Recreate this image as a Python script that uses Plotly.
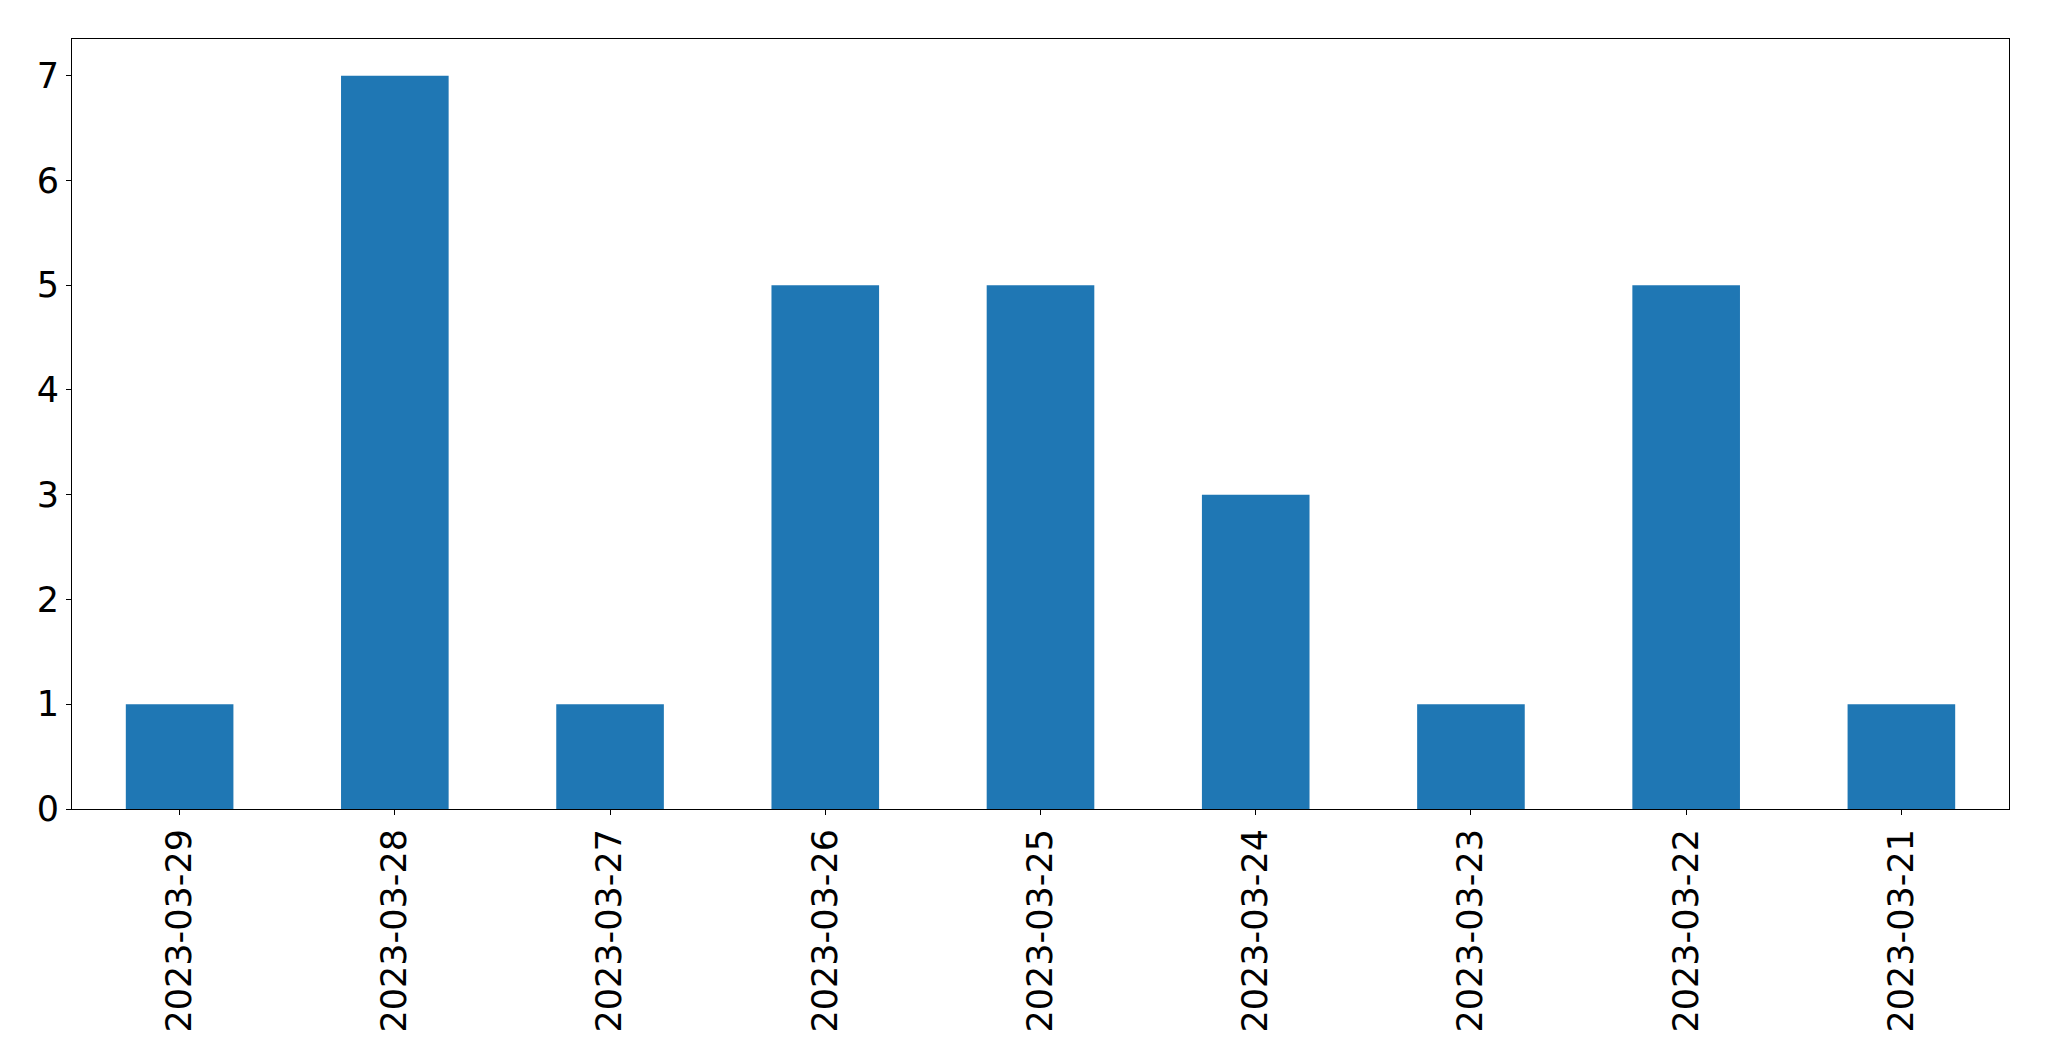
import plotly.graph_objects as go

dates = ["2023-03-29", "2023-03-28", "2023-03-27", "2023-03-26", "2023-03-25",
         "2023-03-24", "2023-03-23", "2023-03-22", "2023-03-21"]
counts = [1, 7, 1, 5, 5, 3, 1, 5, 1]
y_ticks = [0, 1, 2, 3, 4, 5, 6, 7]

fig = go.Figure()
fig.add_trace(go.Bar(x=dates, y=counts, width=0.5, marker=dict(color="#1f77b4", line=dict(width=0))))

axis_common = dict(showline=True, linecolor="black", linewidth=1.1, mirror=True,
                   showgrid=False, zeroline=False, ticks="outside", ticklen=5,
                   tickwidth=1.1, tickcolor="black",
                   tickfont=dict(family="DejaVu Sans", size=35, color="black"))

fig.update_xaxes(type="category", categoryorder="array", categoryarray=dates,
                 range=[-0.5, 8.5], tickangle=-90, **axis_common)
fig.update_yaxes(range=[0, 7.35], tickmode="array", tickvals=y_ticks,
                 ticktext=[str(v) for v in y_ticks], **axis_common)

fig.update_layout(width=2041, height=1053, plot_bgcolor="white", paper_bgcolor="white",
                  margin=dict(l=64, r=40, t=31, b=252), showlegend=False,
                  font=dict(family="DejaVu Sans", color="black"))

fig.write_html("out.html")
